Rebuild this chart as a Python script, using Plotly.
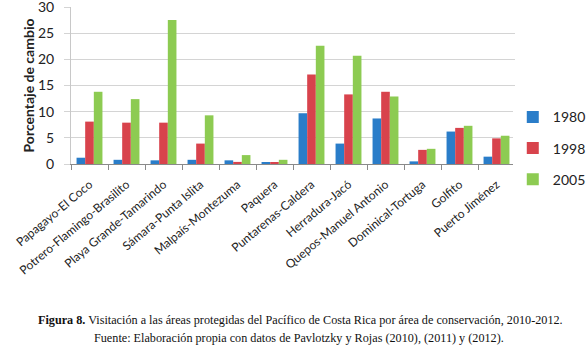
import plotly.graph_objects as go

categories = ["Papagayo-El Coco", "Potrero-Flamingo-Brasilito", "Playa Grande-Tamarindo",
              "Sámara-Punta Islita", "Malpaís-Montezuma", "Paquera", "Puntarenas-Caldera",
              "Herradura-Jacó", "Quepos-Manuel Antonio", "Dominical-Tortuga", "Golfito",
              "Puerto Jiménez"]
v1980 = [1.2, 0.8, 0.7, 0.8, 0.7, 0.3, 9.7, 3.9, 8.7, 0.5, 6.2, 1.4]
v1998 = [8.1, 7.9, 7.9, 3.9, 0.4, 0.3, 17.1, 13.3, 13.8, 2.7, 6.9, 4.9]
v2005 = [13.8, 12.4, 27.5, 9.3, 1.7, 0.8, 22.6, 20.7, 12.9, 2.9, 7.3, 5.4]
series = [("1980", v1980, "#2A7DC9"), ("1998", v1998, "#D8434C"), ("2005", v2005, "#8DCB52")]
yticks = [0, 5, 10, 15, 20, 25, 30]

sans = "Lato, Open Sans, Liberation Sans, sans-serif"
fig = go.Figure()
for name, vals, col in series:
    fig.add_trace(go.Bar(x=categories, y=vals, name=name, marker_color=col,
                         marker_line_width=0, legendgroup=name))

fig.update_layout(
    width=586, height=353,
    margin=dict(l=71, r=71, t=7, b=189, autoexpand=False),
    paper_bgcolor="white", plot_bgcolor="white",
    barmode="group", bargap=0.3, bargroupgap=0,
    font=dict(family=sans, color="#222"),
    legend=dict(x=0.995, y=0.1, yanchor="middle", xanchor="left",
                font=dict(size=14, color="#222"), tracegroupgap=10),
    showlegend=True,
)
fig.update_yaxes(range=[0, 30], tickvals=yticks, showgrid=True, gridcolor="#D4D4D4",
                 gridwidth=1, zeroline=False, showline=True, linecolor="#C8C8C8",
                 automargin=False, ticklabeloverflow="allow",
                 tickfont=dict(size=14, color="#222"), ticks="outside",
                 ticklen=6, tickcolor="#D4D4D4", ticklabelstandoff=7)
fig.update_xaxes(showline=True, linecolor="#8A8A8A", linewidth=1, ticks="outside",
                 tickson="boundaries", ticklen=5, tickcolor="#8A8A8A", automargin=False,
                 tickangle=-40, tickfont=dict(size=12, color="#222"), ticklabelstandoff=8)

fig.add_annotation(xref="paper", yref="paper", x=0, y=0.5, xanchor="center", yanchor="middle",
                   xshift=-43, yshift=0, textangle=-90,
                   text="<b>Porcentaje de cambio</b>", showarrow=False,
                   font=dict(family=sans, size=14, color="#222"))

serif = "Liberation Serif, Times New Roman, serif"
fig.add_annotation(xref="paper", yref="paper", x=0.5, y=0, xanchor="center", yanchor="middle",
                   xshift=7, yshift=-156,
                   text="<b>Figura 8.</b> Visitación a las áreas protegidas del Pacífico de Costa Rica por área de conservación, 2010-2012.",
                   showarrow=False, font=dict(family=serif, size=12.2, color="#111"))
fig.add_annotation(xref="paper", yref="paper", x=0.5, y=0, xanchor="center", yanchor="middle",
                   xshift=6, yshift=-174,
                   text="Fuente: Elaboración propia con datos de Pavlotzky y Rojas (2010), (2011) y (2012).",
                   showarrow=False, font=dict(family=serif, size=12.2, color="#111"))

fig.write_html("out.html", config={"displayModeBar": False},
               post_script="document.body.style.margin='0';document.body.style.padding='0';")
